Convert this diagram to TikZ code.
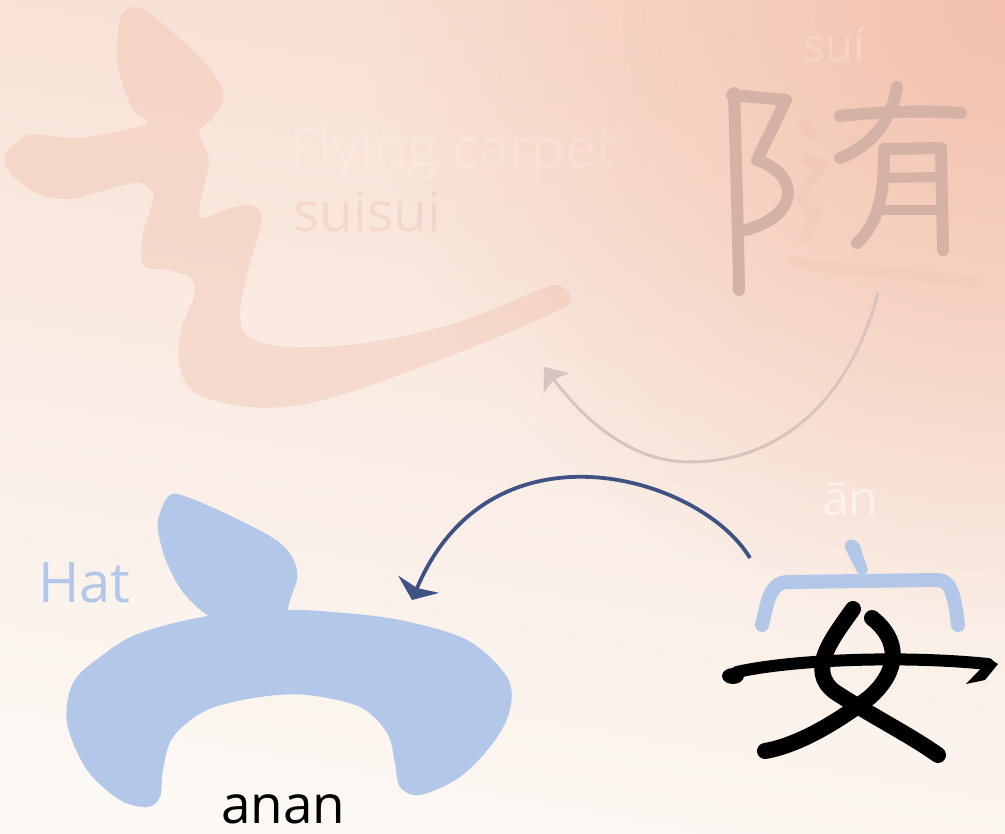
\documentclass[tikz,border=0pt]{standalone}
\usepackage{fontspec}
\setmainfont{Open Sans}
\usetikzlibrary{arrows.meta,fadings}
\definecolor{bgtop}{HTML}{F8DFD2}
\definecolor{bgmid}{HTML}{F9E8DE}
\definecolor{bgbot}{HTML}{FCF8F4}
\definecolor{bgcorner}{HTML}{F3C1AD}
\definecolor{carpetcol}{HTML}{EDB8A2}
\definecolor{hatblue}{HTML}{B3C8E8}
\definecolor{darkblue}{HTML}{3E5283}
\definecolor{faintarrow}{HTML}{D9C3BF}
\definecolor{suibrown}{HTML}{D4B3A6}
\tikzfading[name=cornerfade, inner color=transparent!0, outer color=transparent!100]
\tikzset{
  carpet/.style={fill=carpetcol, fill opacity=0.32},
  hatshape/.style={fill=hatblue},
  suistroke/.style={draw=suibrown, line width=12pt, line cap=round, line join=round},
  faintstroke/.style={draw=carpetcol, draw opacity=0.15, line width=11pt, line cap=round, line join=round},
  anstrokeblue/.style={draw=hatblue, line width=14pt, line cap=round, line join=round},
  anstroke/.style={draw=black, line width=16pt, line cap=round, line join=round},
  bigarrow/.style={draw=darkblue, line width=3.8pt, -{Stealth[length=17pt, width=44pt, inset=4pt]}},
  ghostarrow/.style={draw=faintarrow, line width=3pt, -{Stealth[length=20pt, width=32pt, inset=4pt]}},
  ghosttext/.style={text=white, text opacity=0.16, font=\fontsize{55}{60}\selectfont, anchor=base west, inner sep=0pt},
  pinktext/.style={text=carpetcol, text opacity=0.3, font=\fontsize{55}{60}\selectfont, anchor=base west, inner sep=0pt},
}
\begin{document}
\begin{tikzpicture}[x=1pt,y=-1pt]
\useasboundingbox (0,0) rectangle (1005,834);
\shade[shading=axis, top color=bgtop, middle color=bgmid, bottom color=bgbot, shading angle=-10] (0,0) rectangle (1005,834);
\begin{scope}
\clip (0,0) rectangle (1005,834);
\fill[bgcorner, path fading=cornerfade] (1005,0) circle (640pt);
\end{scope}

% flying carpet (faint chuo radical)
\fill[carpet] plot[smooth cycle, tension=0.55] coordinates {
 (6,153) (29,135) (75,138) (112,133) (147,123)
 (133,110) (118,67) (120,20) (133,7) (149,13) (178,37) (211,70) (224,97) (211,120) (199,133)
 (209,160) (203,190) (199,213) (205,218) (224,210) (249,205) (261,213) (259,233) (249,267)
 (240,313) (249,337) (290,347) (365,343) (456,323) (539,290) (558,285) (570,295) (564,307)
 (498,337) (394,377) (311,403) (249,407) (195,393) (179,363) (182,327) (195,293) (189,277)
 (166,270) (145,267) (141,253) (143,233) (151,207) (153,193) (141,183) (124,185) (95,193)
 (70,199) (41,195) (17,180) (6,167)};

\node[ghosttext] (fly) at (290,168) {Flying carpet};
\node[pinktext] (suisui) at (293,232) {suisui};
\node[ghosttext, text opacity=0.2, font=\fontsize{46}{50}\selectfont] (sui) at (803,62) {suí};

% faint chuo inside sui
\draw[faintstroke] (803,122) -- (810,135);
\draw[faintstroke] (806,160) -- (822,164) -- (800,198) -- (816,212) -- (805,238);
\draw[faintstroke] (795,262) .. controls (840,272) and (900,270) .. (978,283);

% sui: left radical
\draw[suistroke] (734,93) .. controls (736,160) and (738,230) .. (739,290);
\draw[suistroke] (732,95) -- (786,100) -- (757,160) .. controls (800,175) and (800,215) .. (746,230);
% sui: you
\draw[suistroke] (840,116) .. controls (880,112) and (920,110) .. (961,113);
\draw[suistroke] (897,87) .. controls (893,115) and (875,145) .. (840,158);
\draw[suistroke] (884,150) .. controls (884,185) and (882,220) .. (857,243);
\draw[suistroke] (884,149) -- (941,148) -- (943,250);
\draw[suistroke, line width=10pt] (884,178) -- (940,177);
\draw[suistroke, line width=10pt] (882,210) -- (940,210);

% ghost arrow
\coordinate (g1) at (878,293);
\coordinate (gb) at (690,462);
\coordinate (g2) at (544,367);
\draw[ghostarrow] (g1) .. controls (850,400) and (780,462) .. (gb) .. controls (630,462) and (585,420) .. (g2);

% an character
\fill[hatblue] (845,548) .. controls (843,538) and (856,536) .. (860,546) -- (868,570) .. controls (866,576) and (860,576) .. (857,572) -- cycle;
\draw[anstrokeblue] (762,625) .. controls (768,600) and (770,583) .. (787,582) -- (938,580) .. controls (952,580) and (955,600) .. (958,625);
\draw[anstroke, line width=12pt] (737,672) .. controls (790,660) and (900,655) .. (988,664);
\fill (733,676) ellipse (11pt and 8pt);
\fill (990,659) -- (998,664) -- (985,680) -- (966,684) -- cycle;
\draw[anstroke] (853,609) .. controls (835,635) and (805,670) .. (835,692) .. controls (870,715) and (910,735) .. (938,755);
\draw[anstroke] (872,618) .. controls (900,640) and (900,670) .. (870,697) .. controls (840,720) and (800,745) .. (765,751);

% blue hat
\fill[hatshape] plot[smooth cycle, tension=0.6] coordinates {
 (160,513) (170,495) (187,497) (233,517) (280,543) (297,570) (291,597) (277,622) (222,622) (187,597) (167,563) (158,530)};
\fill[hatshape] plot[smooth cycle, tension=0.55] coordinates {
 (213,615) (283,610) (333,612) (400,620) (467,640) (507,677) (510,710) (493,743) (460,777)
 (420,795) (400,787) (395,763) (387,733) (360,707) (307,695) (260,697) (207,710) (173,737)
 (163,770) (160,797) (147,807) (120,800) (87,770) (67,723) (73,683) (100,657) (140,633)};

% dark arrow
\coordinate (a1) at (750,558);
\coordinate (a2) at (412,600);
\draw[bigarrow] (a1) .. controls (700,475) and (490,415) .. (a2);

% labels
\node[anchor=base west, inner sep=0pt, text=hatblue, font=\fontsize{56}{60}\selectfont] (hat) at (38,602) {Hat};
\node[anchor=base west, inner sep=0pt, text=black, font=\fontsize{53}{60}\selectfont] (anan) at (221,823) {anan};
\node[anchor=base west, inner sep=0pt, text=white, text opacity=0.5, font=\fontsize{48}{52}\selectfont] (an) at (822,515) {ān};
\end{tikzpicture}
\end{document}
